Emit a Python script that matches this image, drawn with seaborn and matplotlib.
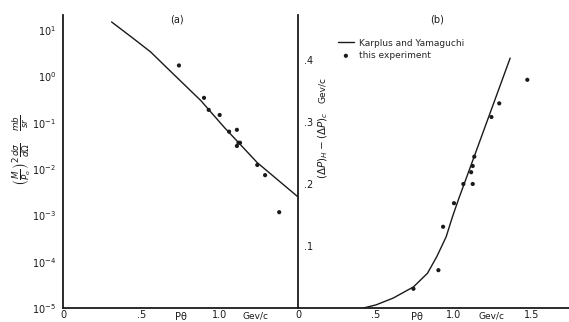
import matplotlib
matplotlib.use("Agg")
import matplotlib.pyplot as plt
import seaborn as sns

# (a) cross section, curve and measured points
curve_a_x = [0.31, 0.45, 0.56, 0.66, 0.77, 0.88, 1.03, 1.24, 1.50]
curve_a_logy = [1.18, 0.82, 0.53, 0.20, -0.16, -0.52, -1.10, -1.86, -2.60]
points_a_x = [0.74, 0.90, 0.93, 1.00, 1.06, 1.11, 1.12, 1.11, 1.13, 1.24, 1.29, 1.38]
points_a_logy = [0.24, -0.46, -0.72, -0.83, -1.19, -1.15, -1.43, -1.50, -1.43, -1.91, -2.13, -2.93]

# (b) momentum difference, curve and measured points
curve_b_x = [0.42, 0.50, 0.61, 0.74, 0.83, 0.89, 0.95, 0.99, 1.03, 1.10, 1.36]
curve_b_y = [0.0, 0.005, 0.016, 0.034, 0.056, 0.083, 0.115, 0.147, 0.176, 0.224, 0.403]
points_b_x = [0.74, 0.90, 0.93, 1.00, 1.06, 1.11, 1.12, 1.12, 1.13, 1.24, 1.29, 1.47]
points_b_y = [0.031, 0.061, 0.131, 0.169, 0.200, 0.219, 0.229, 0.200, 0.244, 0.308, 0.330, 0.368]

a_yticks = [1e1, 1e0, 1e-1, 1e-2, 1e-3, 1e-4, 1e-5]
a_yticklabels = ["$10^{1}$", "$10^{0}$", "$10^{-1}$", "$10^{-2}$", "$10^{-3}$", "$10^{-4}$", "$10^{-5}$"]
b_yticks = [0.1, 0.2, 0.3, 0.4]
b_yticklabels = [".1", ".2", ".3", ".4"]

sns.set_style("white")
plt.rcParams["font.family"] = ["DejaVu Sans"]
plt.rcParams["mathtext.fontset"] = "dejavusans"

fig = plt.figure(figsize=(5.69, 3.22), dpi=100)
ax1 = fig.add_axes([63 / 569, 14 / 322, 235 / 569, 293 / 322])
ax2 = fig.add_axes([298 / 569, 14 / 322, 271 / 569, 293 / 322])

ink = "#1a1a1a"

# panel (a)
sns.lineplot(x=curve_a_x, y=[10 ** v for v in curve_a_logy], ax=ax1, color=ink, lw=1.0)
sns.scatterplot(x=points_a_x, y=[10 ** v for v in points_a_logy], ax=ax1, color=ink, s=9, edgecolor="none")
ax1.set_yscale("log")
ax1.set_xlim(0, 1.5)
ax1.set_ylim(1e-5, 10 ** 1.33)
ax1.set_yticks(a_yticks)
ax1.set_yticklabels(a_yticklabels)
ax1.minorticks_off()
ax1.set_xticks([0, 0.5, 1.0])
ax1.set_xticklabels(["0", ".5", "1.0"])
ax1.tick_params(axis="y", direction="out", length=3, width=1, labelsize=7, colors=ink, pad=2)
ax1.tick_params(axis="x", direction="in", length=4, width=1, labelsize=7, colors=ink, pad=1.5)
ax1.text(0.73, 1.0, "(a)", transform=ax1.get_xaxis_transform(), ha="center", va="top", fontsize=7, color=ink)
ax1.text(0.75, -0.012, "P\u03b8", transform=ax1.get_xaxis_transform(), ha="center", va="top", fontsize=7, color=ink)
ax1.text(1.23, -0.012, "Gev/c", transform=ax1.get_xaxis_transform(), ha="center", va="top", fontsize=6.5, color=ink)
fig.text(22 / 569, 1 - 150 / 322,
         r"$\left(\frac{M}{P_o}\right)^2\frac{d\sigma}{d\Omega}\quad\frac{mb}{sr}$",
         rotation=90, ha="center", va="center", fontsize=9, color=ink)

# panel (b)
sns.lineplot(x=curve_b_x, y=curve_b_y, ax=ax2, color=ink, lw=1.0, label="Karplus and Yamaguchi")
sns.scatterplot(x=points_b_x, y=points_b_y, ax=ax2, color=ink, s=9, edgecolor="none", label="this experiment")
ax2.set_xlim(0, 271 / 156)
ax2.set_ylim(0, 0.4725)
ax2.set_yticks(b_yticks)
ax2.set_yticklabels(b_yticklabels, ha="left")
ax2.set_xticks([0, 0.5, 1.0, 1.5])
ax2.set_xticklabels(["0", ".5", "1.0", "1.5"])
ax2.tick_params(axis="y", direction="in", length=3, width=1, labelsize=7, colors=ink, pad=-4)
ax2.tick_params(axis="x", direction="in", length=4, width=1, labelsize=7, colors=ink, pad=1.5)
ax2.text(0.89, 1.0, "(b)", transform=ax2.get_xaxis_transform(), ha="center", va="top", fontsize=7, color=ink)
ax2.text(0.76, -0.012, "P\u03b8", transform=ax2.get_xaxis_transform(), ha="center", va="top", fontsize=7, color=ink)
ax2.text(1.24, -0.012, "Gev/c", transform=ax2.get_xaxis_transform(), ha="center", va="top", fontsize=6.5, color=ink)
fig.text(323 / 569, 1 - 145 / 322, r"$(\Delta P)_H - (\Delta P)_c$",
         rotation=90, ha="center", va="center", fontsize=7.5, color=ink)
fig.text(323 / 569, 1 - 90 / 322, "Gev/c", rotation=90, ha="center", va="center", fontsize=6.5, color=ink)
ax2.legend(loc="upper left", bbox_to_anchor=(0.13, 0.935), frameon=False, fontsize=6.5,
           handlelength=1.8, handletextpad=0.6, labelspacing=0.4, borderpad=0)

for ax in (ax1, ax2):
    sns.despine(ax=ax)
    for side in ("left", "bottom"):
        ax.spines[side].set_linewidth(1.3)
        ax.spines[side].set_color(ink)
    ax.patch.set_alpha(0)

fig.savefig("out.png", dpi=100)
